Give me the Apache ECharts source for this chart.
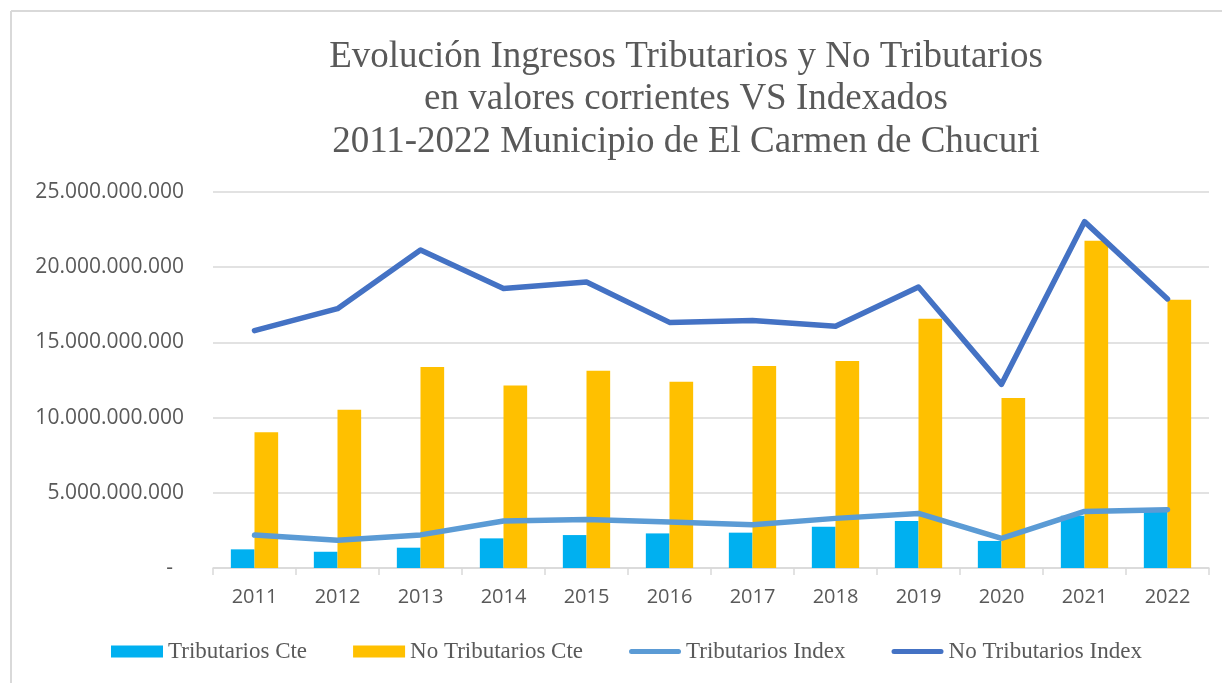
<!DOCTYPE html>
<html>
<head>
<meta charset="utf-8">
<script src="https://cdn.jsdelivr.net/npm/echarts@6/dist/echarts.min.js"></script>
<style>
html,body{margin:0;padding:0;background:#fff;}
#chart{width:1222px;height:683px;}
</style>
</head>
<body>
<div id="chart"></div>
<script>
const categories = ['2011','2012','2013','2014','2015','2016','2017','2018','2019','2020','2021','2022'];
const tributariosCte = [1240000000,1080000000,1350000000,1970000000,2190000000,2300000000,2350000000,2750000000,3120000000,1800000000,3480000000,3750000000];
const noTributariosCte = [9020000000,10530000000,13360000000,12140000000,13120000000,12390000000,13430000000,13760000000,16580000000,11300000000,21760000000,17840000000];
const tributariosIndex = [2190000000,1840000000,2200000000,3120000000,3230000000,3060000000,2880000000,3300000000,3630000000,1970000000,3760000000,3880000000];
const noTributariosIndex = [15780000000,17240000000,21140000000,18590000000,19020000000,16330000000,16460000000,16070000000,18680000000,12210000000,23030000000,17890000000];
const seriesNames = ['Tributarios Cte','No Tributarios Cte','Tributarios Index','No Tributarios Index'];
const titleText = 'Evolución Ingresos Tributarios y No Tributarios\nen valores corrientes VS Indexados\n2011-2022 Municipio de El Carmen de Chucuri';

function fmt(v){
  if (v === 0) return '-  ';
  return String(Math.round(v)).replace(/\B(?=(\d{3})+(?!\d))/g, '.');
}

// legend icon for line series: thin rounded bar inside a 52x12 box (tiny corner marks keep the box size)
const lineIcon = 'path://M0,0L0.01,0L0.01,0.01Z M0,12L0.01,12L0.01,11.99Z M2.5,3.5L49.5,3.5A2.5,2.5 0 0 1 49.5,8.5L2.5,8.5A2.5,2.5 0 0 1 2.5,3.5Z';

const chart = echarts.init(document.getElementById('chart'), null, {renderer:'canvas'});
chart.setOption({
  backgroundColor:'#ffffff',
  animation:false,
  title:{
    text:titleText,
    left:686, top:36, padding:0,
    textAlign:'center',
    textStyle:{fontFamily:'Liberation Serif', fontSize:37, fontWeight:'normal', color:'#595959', lineHeight:42.5}
  },
  legend:{
    left:111, top:640, padding:0,
    itemWidth:52, itemHeight:12, itemGap:46,
    textStyle:{fontFamily:'Liberation Serif', fontSize:23, color:'#595959'},
    data:[
      {name:seriesNames[0], icon:'rect'},
      {name:seriesNames[1], icon:'rect'},
      {name:seriesNames[2], icon:lineIcon},
      {name:seriesNames[3], icon:lineIcon}
    ]
  },
  grid:{left:213, right:13, top:192, bottom:115},
  xAxis:{
    type:'category',
    data:categories,
    axisLine:{lineStyle:{color:'#D9D9D9', width:1.5}},
    axisTick:{show:true, length:7, lineStyle:{color:'#D9D9D9', width:1.5}},
    axisLabel:{fontFamily:'Open Sans', fontSize:20, color:'#595959', margin:19}
  },
  yAxis:{
    type:'value',
    min:0, max:25000000000, interval:5000000000,
    axisLine:{show:false},
    axisTick:{show:false},
    splitLine:{lineStyle:{color:'#D9D9D9', width:1.5}},
    axisLabel:{fontFamily:'Open Sans', fontSize:21, color:'#595959', margin:29, formatter:fmt}
  },
  series:[
    {name:seriesNames[0], type:'bar', data:tributariosCte, barGap:'0%', barCategoryGap:'43%', itemStyle:{color:'#00B0F0'}, z:2},
    {name:seriesNames[1], type:'bar', data:noTributariosCte, barGap:'0%', barCategoryGap:'43%', itemStyle:{color:'#FFC000'}, z:2},
    {name:seriesNames[2], type:'line', data:tributariosIndex, symbol:'none', lineStyle:{color:'#5B9BD5', width:5.5, cap:'round', join:'round'}, itemStyle:{color:'#5B9BD5'}, z:3},
    {name:seriesNames[3], type:'line', data:noTributariosIndex, symbol:'none', lineStyle:{color:'#4472C4', width:5.5, cap:'round', join:'round'}, itemStyle:{color:'#4472C4'}, z:4}
  ],
  graphic:[
    {type:'line', shape:{x1:11, y1:11, x2:1222, y2:11}, style:{stroke:'#D9D9D9', lineWidth:2}, silent:true},
    {type:'line', shape:{x1:11, y1:11, x2:11, y2:683}, style:{stroke:'#D9D9D9', lineWidth:2}, silent:true}
  ]
});
</script>
</body>
</html>
